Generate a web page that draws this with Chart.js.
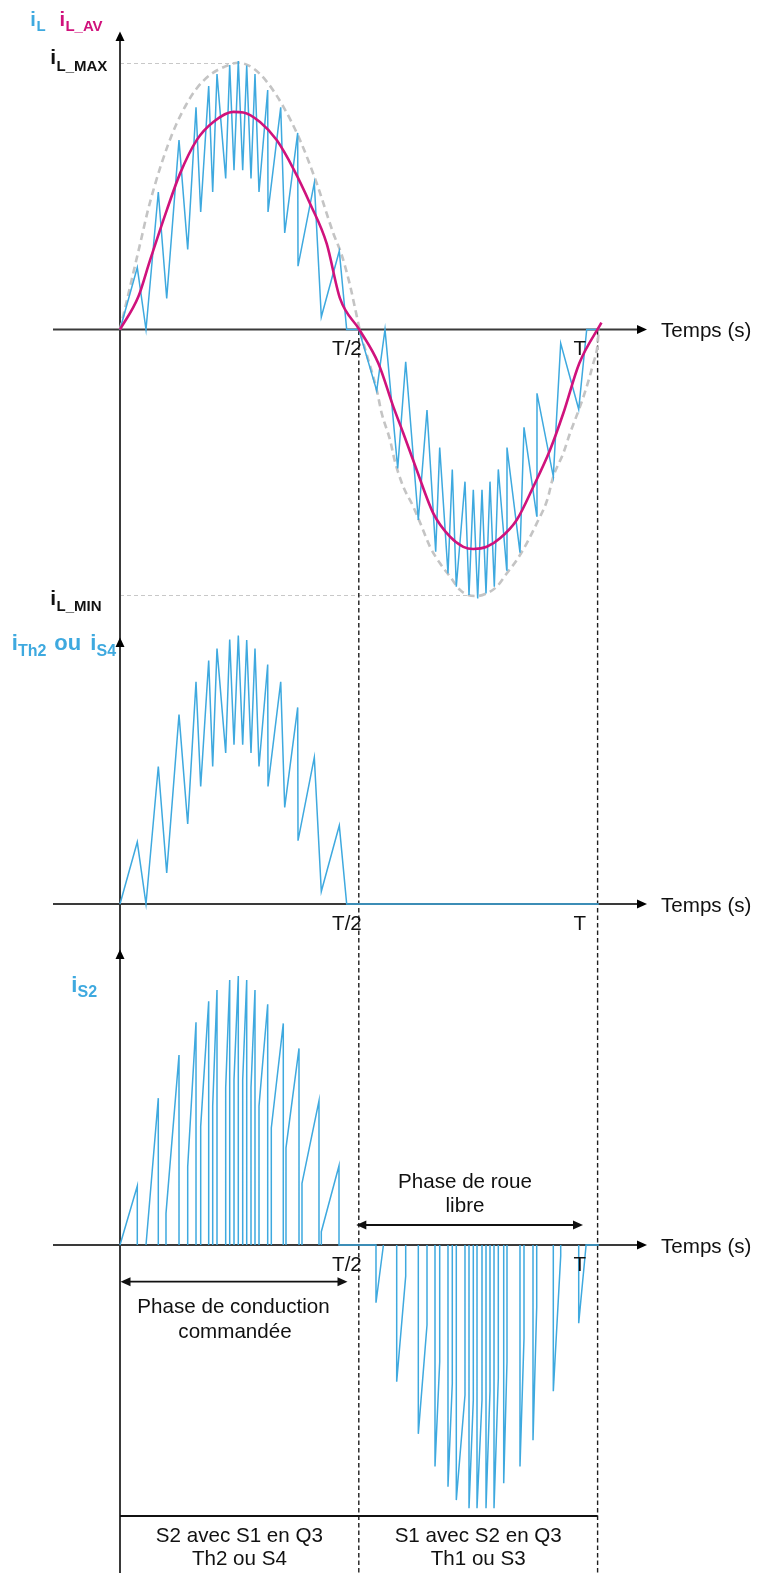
<!DOCTYPE html>
<html>
<head>
<meta charset="utf-8">
<script src="https://cdn.jsdelivr.net/npm/chart.js@4.4.0/dist/chart.umd.min.js"></script>
<style>
html,body{margin:0;padding:0;background:#fff;overflow:hidden;}
#wrap{position:relative;width:758px;height:1573px;}
canvas{display:block;}
</style>
</head>
<body>
<div id="wrap"><canvas id="c" width="758" height="1573"></canvas></div>
<script>
// ---------------- DATA (time in ms, T = 20 ms ; currents in % of iL_MAX) ----------------
const PERIOD = 20;
const tickValues = [10, 20];
const tickLabels = ['T/2', 'T'];
const I_L_MAX = 100;
const I_L_MIN = -100;

// iL, first half-period (triangular ripple)
const iLpos_t = [0, 0.724, 1.089, 1.604, 1.956, 2.471, 2.835, 3.183, 3.379, 3.714, 3.882, 4.062, 4.426, 4.594, 4.774, 4.954, 5.138, 5.306, 5.486, 5.653, 5.821, 6.185, 6.198, 6.730, 6.897, 7.441, 7.455, 8.137, 8.430, 9.183, 9.493, 10.0];
const iLpos_v = [0, 23.3, 0, 51.7, 11.7, 71.2, 30.1, 83.5, 44.2, 91.5, 51.7, 96.0, 56.8, 99.4, 59.9, 100.9, 59.9, 99.2, 56.8, 96.0, 51.7, 90.0, 44.2, 83.5, 36.3, 73.9, 23.8, 55.1, 4.7, 29.5, 0, 0];
// iL, second half-period
const iLneg_t = [10.750, 11.097, 11.629, 11.964, 12.492, 12.856, 13.220, 13.388, 13.735, 13.915, 14.083, 14.447, 14.615, 14.795, 14.979, 15.159, 15.327, 15.494, 15.674, 15.842, 16.193, 16.206, 16.750, 16.918, 17.450, 17.462, 18.145, 18.455, 19.209, 19.544, 20.05];
const iLneg_v = [-23.0, 0, -52.2, -12.1, -71.6, -30.3, -83.5, -44.4, -91.7, -52.6, -96.7, -57.2, -99.8, -60.3, -101.1, -60.3, -99.2, -57.2, -96.7, -52.6, -90.4, -44.4, -83.9, -36.8, -70.1, -24.0, -55.3, -5.2, -30.0, 0, 0];

// iL_AV (average current)
const iLav_t = [0, 0.766, 1.256, 1.956, 2.513, 3.212, 3.907, 4.745, 5.163, 5.863, 6.562, 7.257, 7.956, 8.656, 9.213, 10.02, 10.817, 11.445, 11.864, 12.425, 13.120, 13.819, 14.376, 14.795, 15.356, 15.913, 16.612, 17.308, 18.007, 18.564, 19.234, 20.16];
const iLav_v = [0, 12.3, 26.0, 44.8, 58.6, 71.2, 78.0, 81.8, 81.6, 78.0, 71.2, 60.5, 47.4, 32.3, 11.7, 0, -12.7, -29.0, -39.0, -52.8, -69.1, -77.9, -81.7, -82.5, -81.7, -78.5, -71.6, -59.1, -45.3, -31.5, -12.7, 2.6];

// envelope (grey dashed)
const env_t = [0, 0.293, 0.586, 0.879, 1.152, 1.424, 1.717, 2.010, 2.345, 2.764, 3.225, 3.769, 4.355, 4.954, 5.582, 6.143, 6.838, 7.538, 8.237, 8.932, 9.284, 9.631, 9.841, 10.04,
  10.750, 10.959, 11.307, 11.516, 11.863, 12.282, 12.634, 12.982, 13.400, 13.819, 14.238, 14.585, 14.937, 15.356, 15.775, 16.193, 16.612, 17.031, 17.450, 17.889, 18.145, 18.564, 18.844, 19.263, 19.544, 19.820, 19.987, 20.05];
const env_v = [0, 11.1, 22.4, 33.6, 44.2, 53.2, 61.8, 69.4, 76.9, 84.4, 90.8, 95.7, 98.7, 100.3, 98.2, 93.2, 83.8, 71.2, 55.0, 36.2, 28.0, 16.7, 8.1, 0,
  -22.7, -31.5, -41.5, -49.7, -59.1, -66.6, -74.1, -81.7, -87.9, -92.9, -97.9, -99.8, -100.2, -99.2, -96.7, -91.7, -86.7, -80.4, -72.9, -64.1, -55.3, -46.5, -39.0, -29.0, -21.5, -12.7, -6.5, 0];

// iTh2 / iS4 : end of the zero plateau
const iTh2_end_t = 20.05;

// iS2 conduction segments : start (t0,v0) -> end (t1,v1)
const s2_t0 = [0, 1.089, 1.926, 2.835, 3.379, 3.882, 4.426, 4.774, 5.138, 5.486, 5.821, 6.336, 6.951, 7.621, 8.430,
  10.720, 11.587, 12.492, 13.191, 13.735, 14.083, 14.615, 14.950, 15.327, 15.662, 16.068, 16.750, 17.295, 18.145, 19.209];
const s2_v0 = [0, 0, 11.9, 29.4, 44.6, 52.2, 59.1, 62.0, 62.0, 59.1, 52.2, 44.0, 36.5, 23.2, 5.0,
  -21.7, -51.4, -71.0, -83.3, -90.9, -95.9, -99.0, -99.0, -99.0, -99.0, -89.6, -83.3, -73.4, -55.0, -29.4];
const s2_t1 = [0.724, 1.604, 2.471, 3.183, 3.714, 4.062, 4.594, 4.954, 5.306, 5.653, 6.185, 6.838, 7.496, 8.333, 9.171,
  11.026, 11.964, 12.856, 13.388, 13.915, 14.447, 14.795, 15.159, 15.494, 15.842, 16.206, 16.918, 17.450, 18.455, 19.514];
const s2_v1 = [22.2, 55.2, 71.4, 83.7, 91.6, 95.9, 99.6, 101.1, 99.6, 95.9, 90.5, 83.3, 73.9, 54.2, 29.8,
  -0.4, -11.7, -30.1, -43.9, -52.1, -56.4, -58.3, -58.3, -54.9, -50.1, -43.9, -35.1, -23.3, -4.1, -0.4];
// iS2 zero plateaus drawn in blue
const s2Flat_t0 = [9.171, 19.514];
const s2Flat_t1 = [10.720, 20.05];

// ---------------- build datasets ----------------
const pts = (ts, vs) => ts.map((t, i) => ({x: t, y: vs[i]}));
const iLData = pts(iLpos_t, iLpos_v).concat(pts(iLneg_t, iLneg_v));
const iTh2Data = pts(iLpos_t, iLpos_v).concat([{x: iTh2_end_t, y: 0}]);
const iS2Data = [];
s2_t0.forEach((t0, i) => {
  const t1 = s2_t1[i];
  iS2Data.push({x: t0, y: 0}, {x: t0, y: s2_v0[i]}, {x: t1, y: s2_v1[i]}, {x: t1, y: 0});
  const f = s2Flat_t0.findIndex(v => Math.abs(v - t1) < 1e-6);
  if (f >= 0) {
    iS2Data.push({x: s2Flat_t1[f], y: 0});
  } else {
    iS2Data.push({x: t1, y: null});
  }
});

// ---------------- layout ----------------
const W = 758, H = 1573;
const X0PX = 120, PX_PER_MS = 23.88;
const K = 2.66;               // px per % unit
const ZERO_TOP = 329.5, ZERO_MID = 904, ZERO_BOT = 1245;
const yRange = z => ({min: -(H - z) / K, max: z / K});

const BLUE = '#3ea9df', MAGENTA = '#d0127c', GREY = '#c4c4c4', AXIS = '#3a3a3a';
const FONT = '"Liberation Sans", Arial, Helvetica, sans-serif';
const FS = 20.6;

function arrowHead(ctx, x, y, dir, len, hw) {
  ctx.beginPath();
  if (dir === 'up') { ctx.moveTo(x, y); ctx.lineTo(x - hw, y + len); ctx.lineTo(x + hw, y + len); }
  else if (dir === 'right') { ctx.moveTo(x, y); ctx.lineTo(x - len, y - hw); ctx.lineTo(x - len, y + hw); }
  else if (dir === 'left') { ctx.moveTo(x, y); ctx.lineTo(x + len, y - hw); ctx.lineTo(x + len, y + hw); }
  ctx.closePath(); ctx.fill();
}
function seg(ctx, x1, y1, x2, y2) { ctx.beginPath(); ctx.moveTo(x1, y1); ctx.lineTo(x2, y2); ctx.stroke(); }
function txt(ctx, s, x, y, size, bold, color, align) {
  ctx.font = (bold ? 'bold ' : '') + size + 'px ' + FONT;
  ctx.fillStyle = color; ctx.textAlign = align || 'left'; ctx.textBaseline = 'alphabetic';
  ctx.fillText(s, x, y);
}

const deco = {
  id: 'deco',
  beforeDatasetsDraw(chart) {
    const ctx = chart.ctx, xs = chart.scales.x;
    const px = v => xs.getPixelForValue(v);
    const yT = chart.scales.yTop, yM = chart.scales.yMid, yB = chart.scales.yBot;
    ctx.save();
    // iL_MAX / iL_MIN reference lines
    const iMax = iLpos_v.indexOf(Math.max(...iLpos_v));
    const iMin = iLneg_v.indexOf(Math.min(...iLneg_v));
    ctx.strokeStyle = '#c8c8c8'; ctx.lineWidth = 1.2; ctx.setLineDash([4, 3]);
    seg(ctx, px(0), yT.getPixelForValue(I_L_MAX), px(iLpos_t[iMax]), yT.getPixelForValue(I_L_MAX));
    seg(ctx, px(0), yT.getPixelForValue(I_L_MIN), px(iLneg_t[iMin]), yT.getPixelForValue(I_L_MIN));
    // vertical dashed T/2 and T
    ctx.strokeStyle = '#1e1e1e'; ctx.lineWidth = 1.4; ctx.setLineDash([4.5, 3]);
    tickValues.forEach(t => seg(ctx, px(t), yT.getPixelForValue(0) + 1, px(t), H));
    ctx.setLineDash([]);
    // axes
    ctx.strokeStyle = AXIS; ctx.fillStyle = AXIS; ctx.lineWidth = 2;
    seg(ctx, px(0), 34, px(0), H);
    [yT, yM, yB].forEach(s => {
      const y = s.getPixelForValue(0);
      seg(ctx, 53, y, 640, y);
      ctx.fillStyle = '#000';
      arrowHead(ctx, 647, y, 'right', 10, 4.5);
    });
    ctx.fillStyle = '#000';
    arrowHead(ctx, px(0), 31.5, 'up', 9.5, 4.5);
    arrowHead(ctx, px(0), 637.5, 'up', 9.5, 4.5);
    arrowHead(ctx, px(0), 949.5, 'up', 9.5, 4.5);
    // table line
    ctx.strokeStyle = '#111'; ctx.lineWidth = 2;
    seg(ctx, px(0), 1516, px(PERIOD), 1516);
    ctx.restore();
  },
  afterDatasetsDraw(chart) {
    const ctx = chart.ctx, xs = chart.scales.x;
    const px = v => xs.getPixelForValue(v);
    const yT = chart.scales.yTop, yM = chart.scales.yMid, yB = chart.scales.yBot;
    ctx.save();
    // tick labels and axis titles
    [yT, yM, yB].forEach(s => {
      const y = s.getPixelForValue(0);
      txt(ctx, tickLabels[0], px(tickValues[0]) + 3, y + 25.5, FS, false, '#111', 'right');
      txt(ctx, tickLabels[1], px(tickValues[1]) - 11.5, y + 25.5, FS, false, '#111', 'right');
      txt(ctx, 'Temps (s)', 661, y + 7.5, FS, false, '#111', 'left');
    });
    // series labels
    txt(ctx, 'i', 30.3, 26, 20, true, BLUE); txt(ctx, 'L', 36.6, 30.5, 15, true, BLUE);
    txt(ctx, 'i', 59.6, 26, 20, true, MAGENTA); txt(ctx, 'L_AV', 65.4, 30.5, 15, true, MAGENTA);
    txt(ctx, 'i', 50.3, 63.5, 21, true, '#111'); txt(ctx, 'L_MAX', 56.5, 70.5, 15, true, '#111');
    txt(ctx, 'i', 50.3, 605, 21, true, '#111'); txt(ctx, 'L_MIN', 56.5, 611, 15, true, '#111');
    txt(ctx, 'i', 11.8, 650, 22, true, BLUE); txt(ctx, 'Th2', 18, 655.5, 16, true, BLUE);
    txt(ctx, 'ou', 54.3, 650, 22, true, BLUE);
    txt(ctx, 'i', 90.3, 650, 22, true, BLUE); txt(ctx, 'S4', 96.5, 655.5, 16, true, BLUE);
    txt(ctx, 'i', 71.2, 991.5, 22, true, BLUE); txt(ctx, 'S2', 77.5, 997, 16, true, BLUE);
    // phase annotations
    ctx.strokeStyle = '#111'; ctx.fillStyle = '#111'; ctx.lineWidth = 1.8;
    const yRL = 1225;
    seg(ctx, px(10) - 1, yRL, 574, yRL);
    arrowHead(ctx, px(10) - 2.5, yRL, 'left', 10, 4.5);
    arrowHead(ctx, 583, yRL, 'right', 10, 4.5);
    txt(ctx, 'Phase de roue', 465, 1188.3, FS, false, '#111', 'center');
    txt(ctx, 'libre', 465, 1211.8, FS, false, '#111', 'center');
    const yPC = 1281.7;
    ctx.strokeStyle = '#111'; ctx.fillStyle = '#111';
    seg(ctx, px(0) + 8, yPC, 339, yPC);
    arrowHead(ctx, px(0) + 0.5, yPC, 'left', 10, 4.5);
    arrowHead(ctx, 347.5, yPC, 'right', 10, 4.5);
    txt(ctx, 'Phase de conduction', 233.5, 1313.3, FS, false, '#111', 'center');
    txt(ctx, 'commandée', 235, 1338.3, FS, false, '#111', 'center');
    // bottom table
    const c1 = (px(0) + px(10)) / 2, c2 = (px(10) + px(20)) / 2;
    txt(ctx, 'S2 avec S1 en Q3', c1, 1541.7, FS, false, '#111', 'center');
    txt(ctx, 'Th2 ou S4', c1, 1565, FS, false, '#111', 'center');
    txt(ctx, 'S1 avec S2 en Q3', c2, 1541.7, FS, false, '#111', 'center');
    txt(ctx, 'Th1 ou S3', c2, 1565, FS, false, '#111', 'center');
    ctx.restore();
  }
};

new Chart(document.getElementById('c'), {
  type: 'line',
  data: {
    datasets: [
      {label: 'iL_AV', data: pts(iLav_t, iLav_v), yAxisID: 'yTop', borderColor: MAGENTA, borderWidth: 2.6,
       pointRadius: 0, cubicInterpolationMode: 'monotone', fill: false},
      {label: 'iL', data: iLData, yAxisID: 'yTop', borderColor: BLUE, borderWidth: 1.5, pointRadius: 0, tension: 0, fill: false},
      {label: 'enveloppe', data: pts(env_t, env_v), yAxisID: 'yTop', borderColor: GREY, borderWidth: 2.6,
       borderDash: [7, 4.5], pointRadius: 0, cubicInterpolationMode: 'monotone', fill: false},
      {label: 'iTh2 ou iS4', data: iTh2Data, yAxisID: 'yMid', borderColor: BLUE, borderWidth: 1.5, pointRadius: 0, tension: 0, fill: false},
      {label: 'iS2', data: iS2Data, yAxisID: 'yBot', borderColor: BLUE, borderWidth: 1.5, pointRadius: 0, tension: 0,
       spanGaps: false, fill: false}
    ]
  },
  options: {
    responsive: false,
    animation: false,
    devicePixelRatio: 1,
    layout: {padding: 0},
    parsing: true,
    plugins: {legend: {display: false}, title: {display: false}, tooltip: {enabled: false}},
    events: [],
    scales: {
      x: {type: 'linear', display: false, bounds: 'data', min: -X0PX / PX_PER_MS, max: (W - X0PX) / PX_PER_MS},
      yTop: Object.assign({type: 'linear', display: false, bounds: 'data', position: 'left'}, yRange(ZERO_TOP)),
      yMid: Object.assign({type: 'linear', display: false, bounds: 'data', position: 'left'}, yRange(ZERO_MID)),
      yBot: Object.assign({type: 'linear', display: false, bounds: 'data', position: 'left'}, yRange(ZERO_BOT))
    }
  },
  plugins: [deco]
});
</script>
</body>
</html>
